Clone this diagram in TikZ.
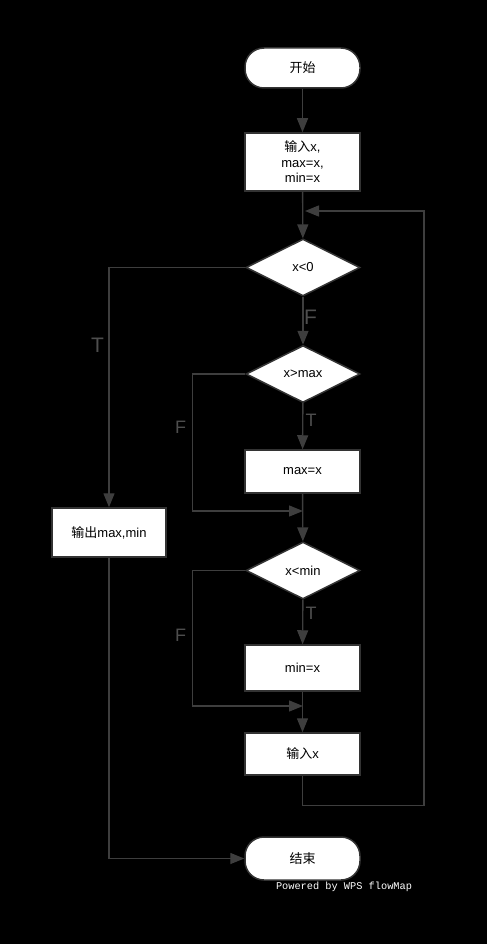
\documentclass[tikz,border=0pt]{standalone}
\usepackage{fontspec}
\setmainfont{Liberation Sans}
\setmonofont{Liberation Mono}
\newfontfamily\cjk{Noto Sans CJK SC}
\usetikzlibrary{shapes.geometric,arrows.meta}
\definecolor{linec}{RGB}{62,62,62}
\definecolor{boxc}{RGB}{51,51,51}
\definecolor{labc}{RGB}{78,78,78}
\tikzset{
  line/.style={draw=linec, line width=1.4pt},
  arr/.style={line, -{Triangle[length=14pt,width=11pt]}},
  proc/.style={draw=boxc, line width=1.5pt, fill=white, minimum width=115pt, inner sep=0pt,
    font=\fontsize{13}{15.5}\selectfont, align=center, text=black},
  term/.style={proc, rounded corners=19pt},
  dec/.style={diamond, draw=boxc, fill=white, line width=1.5pt, minimum width=114pt,
    minimum height=57pt, inner sep=0pt, font=\fontsize{13}{15.5}\selectfont, text=black},
  biglbl/.style={text=labc, font=\fontsize{21}{21}\selectfont, inner sep=0pt},
  smlbl/.style={text=labc, font=\fontsize{18}{18}\selectfont, inner sep=0pt},
}
\begin{document}
\begin{tikzpicture}[x=1pt,y=-1pt]
\fill[black] (0,0) rectangle (487,944);
\useasboundingbox (0,0) rectangle (487,944);

\node[term, minimum height=40pt] (start) at (302.5,68) {{\cjk 开始}};
\node[proc, minimum height=58pt] (in1) at (302.5,162) {{\cjk 输入}x,\\max=x,\\min=x};
\node[dec] (d1) at (303,267.5) {x<0};
\node[dec] (d2) at (303,374) {x>max};
\node[proc, minimum height=43pt] (p1) at (302.5,471.5) {max=x};
\node[dec] (d3) at (303,570.5) {x<min};
\node[proc, minimum height=46pt] (p2) at (302.5,668) {min=x};
\node[proc, minimum height=42pt] (in2) at (302.5,754) {{\cjk 输入}x};
\node[term, minimum height=43pt] (end) at (302.5,858.5) {{\cjk 结束}};
\node[proc, minimum width=114pt, minimum height=49pt] (out) at (109,532.5) {{\cjk 输出}max,min};

\coordinate (m1) at (303,511);
\coordinate (m2) at (303,706);
\coordinate (m3) at (305,211);
\coordinate (r) at (424,211);

\draw[arr] (start) -- (in1);
\draw[arr] (in1) -- (d1);
\draw[arr] (d1.west) -| (out);
\draw[arr] (d1) -- (d2);
\draw[arr] (d2) -- (p1);
\draw[arr] (d2.west) -- ++(-53,0) |- (m1);
\draw[arr] (p1) -- (d3);
\draw[arr] (d3) -- (p2);
\draw[arr] (d3.west) -- ++(-53,0) |- (m2);
\draw[arr] (p2) -- (in2);
\draw[arr] (in2.south) -- ++(0,30) -| (r) -- (m3);
\draw[arr] (out.south) |- (end.west);

\node[biglbl] (lt1) at (97.5,345.5) {T};
\node[biglbl] (lf1) at (310.5,317) {F};
\node[smlbl] (lt2) at (311,420) {T};
\node[smlbl] (lf2) at (180.5,427) {F};
\node[smlbl] (lt3) at (311,613) {T};
\node[smlbl] (lf3) at (180.5,635) {F};

\node[font=\ttfamily\fontsize{10.3}{12}\selectfont, text=white, inner sep=0pt] (pw) at (344,887) {Powered by WPS flowMap};
\end{tikzpicture}
\end{document}
